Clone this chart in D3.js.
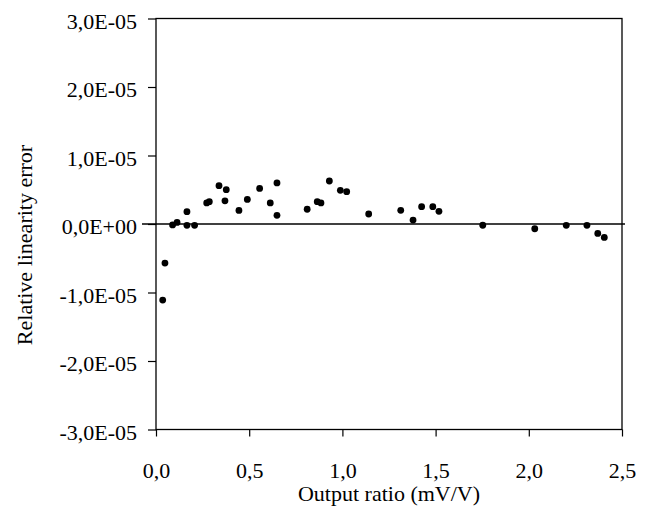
<!DOCTYPE html>
<html>
<head>
<meta charset="utf-8">
<script src="https://cdn.jsdelivr.net/npm/d3@7"></script>
<style>
  html, body { margin: 0; padding: 0; background: #fff; }
  svg { display: block; }
  text { font-family: "Liberation Serif", "Times New Roman", serif; fill: #000; }
</style>
</head>
<body>
<svg id="chart" width="653" height="508"></svg>
<script>
// Output ratio (mV/V) of each measurement
const outputRatio = [
  0.036, 0.048, 0.089, 0.113, 0.166, 0.166, 0.207, 0.272, 0.286, 0.338,
  0.377, 0.370, 0.445, 0.490, 0.556, 0.613, 0.649, 0.649, 0.811, 0.865,
  0.885, 0.930, 0.989, 1.023, 1.141, 1.313, 1.379, 1.425, 1.485, 1.518,
  1.753, 2.032, 2.201, 2.312, 2.370, 2.405
];
// Relative linearity error of each measurement
const linearityError = [
  -1.11e-5, -0.57e-5, -0.013e-5, 0.023e-5, 0.180e-5, -0.02e-5, -0.02e-5, 0.307e-5, 0.326e-5, 0.559e-5,
  0.501e-5, 0.339e-5, 0.198e-5, 0.359e-5, 0.520e-5, 0.307e-5, 0.600e-5, 0.126e-5, 0.215e-5, 0.326e-5,
  0.307e-5, 0.628e-5, 0.491e-5, 0.472e-5, 0.146e-5, 0.199e-5, 0.058e-5, 0.253e-5, 0.253e-5, 0.185e-5,
  -0.018e-5, -0.069e-5, -0.020e-5, -0.020e-5, -0.137e-5, -0.196e-5
];
const xTicks = [0, 0.5, 1.0, 1.5, 2.0, 2.5];
const xTickLabels = ["0,0", "0,5", "1,0", "1,5", "2,0", "2,5"];
const yTicks = [3e-5, 2e-5, 1e-5, 0, -1e-5, -2e-5, -3e-5];
const yTickLabels = ["3,0E-05", "2,0E-05", "1,0E-05", "0,0E+00", "-1,0E-05", "-2,0E-05", "-3,0E-05"];

const svg = d3.select("#chart");
const plotLeft = 156, plotRight = 622, plotTop = 18.5, plotBottom = 429.5;
const fontSize = 22;

const x = d3.scaleLinear().domain([0, 2.5]).range([plotLeft, plotRight]);
const y = d3.scaleLinear().domain([-3e-5, 3e-5]).range([plotBottom, plotTop]);

// plot frame
svg.append("rect")
  .attr("x", plotLeft).attr("y", plotTop)
  .attr("width", plotRight - plotLeft).attr("height", plotBottom - plotTop)
  .attr("fill", "none").attr("stroke", "#000").attr("stroke-width", 1.3);

// y axis: ticks outside to the left
const yAxis = d3.axisLeft(y)
  .tickValues(yTicks)
  .tickSize(8)
  .tickPadding(11)
  .tickFormat((d, i) => yTickLabels[i]);
const gy = svg.append("g").attr("transform", `translate(${plotLeft},0)`).call(yAxis);
gy.select(".domain").remove();
gy.selectAll(".tick line").attr("stroke", "#000").attr("stroke-width", 1.2);
gy.selectAll(".tick text")
  .style("font-size", fontSize + "px")
  .attr("dy", "0.45em")
  .attr("fill", "#000");

// x axis along the bottom, ticks pointing down
const xAxis = d3.axisBottom(x)
  .tickValues(xTicks)
  .tickSize(7)
  .tickPadding(26)
  .tickFormat((d, i) => xTickLabels[i]);
const gx = svg.append("g").attr("transform", `translate(0,${plotBottom})`).call(xAxis);
gx.select(".domain").remove();
gx.selectAll(".tick line").attr("stroke", "#000").attr("stroke-width", 1.2);
gx.selectAll(".tick text").style("font-size", fontSize + "px").attr("fill", "#000");

// zero reference line
svg.append("line")
  .attr("x1", plotLeft - 14).attr("x2", plotRight + 3)
  .attr("y1", y(0)).attr("y2", y(0))
  .attr("stroke", "#000").attr("stroke-width", 1.3);

// data points
svg.append("g").selectAll("circle")
  .data(outputRatio.map((v, i) => [v, linearityError[i]]))
  .join("circle")
  .attr("cx", d => x(d[0]))
  .attr("cy", d => y(d[1]))
  .attr("r", 3.4)
  .attr("fill", "#000");

// axis titles
svg.append("text")
  .attr("x", (plotLeft + plotRight) / 2).attr("y", 501)
  .attr("text-anchor", "middle")
  .style("font-size", fontSize + "px")
  .text("Output ratio (mV/V)");

svg.append("text")
  .attr("transform", `translate(32,${245}) rotate(-90)`)
  .attr("text-anchor", "middle")
  .style("font-size", fontSize + "px")
  .text("Relative linearity error");
</script>
</body>
</html>
